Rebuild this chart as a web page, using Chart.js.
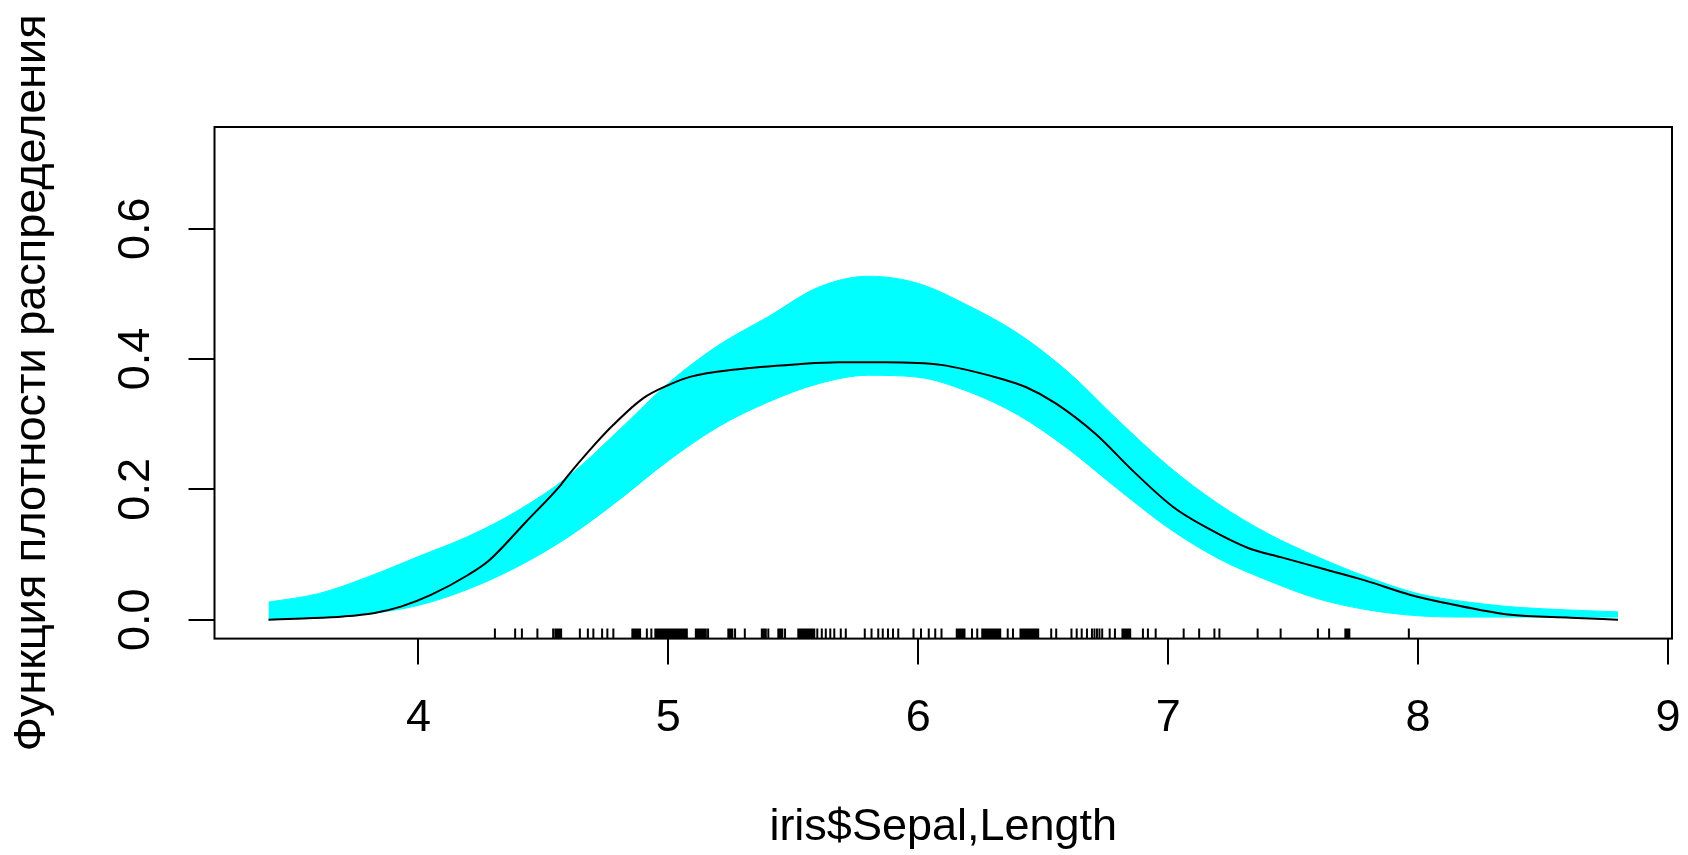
<!DOCTYPE html>
<html>
<head>
<meta charset="utf-8">
<script src="https://cdn.jsdelivr.net/npm/chart.js@4.4.1/dist/chart.umd.min.js"></script>
<style>
  html, body { margin: 0; padding: 0; background: #fff; }
</style>
</head>
<body>
<canvas id="densityChart" width="1688" height="855"></canvas>
<script>
// axis ticks
const xTicks = [4, 5, 6, 7, 8, 9];
const yTicks = [0.0, 0.2, 0.4, 0.6];
const yTickLabels = ['0.0', '0.2', '0.4', '0.6'];

// density estimate (black line)
const estX = [3.40, 3.54, 3.70, 3.82, 3.93, 4.05, 4.20, 4.28, 4.43, 4.57, 4.60, 4.68, 4.78, 4.90, 5.00, 5.09, 5.27, 5.52, 5.68, 5.87, 6.09, 6.32, 6.43, 6.55, 6.71, 6.86, 7.02, 7.16, 7.32, 7.45, 7.63, 7.79, 7.97, 8.13, 8.36, 8.61, 8.80];
const estY = [0.000, 0.002, 0.005, 0.010, 0.020, 0.038, 0.069, 0.090, 0.150, 0.207, 0.222, 0.258, 0.299, 0.340, 0.360, 0.373, 0.384, 0.392, 0.395, 0.395, 0.391, 0.371, 0.357, 0.332, 0.285, 0.228, 0.173, 0.140, 0.110, 0.096, 0.077, 0.060, 0.038, 0.024, 0.008, 0.003, 0.000];

// reference band for the normal model (cyan)
const bandX = [3.4, 3.6, 3.8, 4.0, 4.2, 4.4, 4.6, 4.8, 5.0, 5.2, 5.4, 5.6, 5.8, 6.0, 6.2, 6.4, 6.6, 6.8, 7.0, 7.2, 7.4, 7.6, 7.8, 8.0, 8.2, 8.4, 8.6, 8.8];
const bandUpper = [0.027, 0.040, 0.066, 0.097, 0.128, 0.168, 0.220, 0.290, 0.363, 0.421, 0.465, 0.510, 0.527, 0.516, 0.482, 0.439, 0.380, 0.306, 0.236, 0.178, 0.132, 0.096, 0.065, 0.040, 0.027, 0.019, 0.015, 0.012];
const bandLower = [0.002, 0.003, 0.009, 0.022, 0.047, 0.082, 0.127, 0.183, 0.244, 0.296, 0.334, 0.362, 0.375, 0.372, 0.350, 0.314, 0.262, 0.200, 0.141, 0.094, 0.060, 0.032, 0.015, 0.006, 0.004, 0.004, 0.004, 0.004];

// rug of observations (jittered sepal lengths)
const rugX = [4.306, 4.387, 4.414, 4.476, 4.539, 4.548, 4.556, 4.564, 4.571, 4.646, 4.678, 4.700, 4.735, 4.756, 4.780,
  4.856, 4.864, 4.872, 4.880, 4.887, 4.914, 4.932, 4.948, 4.956, 4.964, 4.972, 4.980, 4.988, 4.996, 5.004, 5.012,
  5.020, 5.028, 5.036, 5.044, 5.052, 5.060, 5.068, 5.074, 5.110, 5.118, 5.126, 5.134, 5.142, 5.150, 5.159,
  5.240, 5.248, 5.256, 5.267, 5.306, 5.374, 5.382, 5.390, 5.400, 5.440, 5.448, 5.456, 5.467,
  5.520, 5.528, 5.536, 5.544, 5.552, 5.560, 5.568, 5.576, 5.584, 5.596, 5.614, 5.630, 5.648, 5.664, 5.690, 5.710,
  5.786, 5.813, 5.840, 5.858, 5.879, 5.899, 5.920, 5.981, 6.011, 6.042, 6.068, 6.093,
  6.154, 6.162, 6.170, 6.178, 6.185, 6.215, 6.236, 6.256, 6.264, 6.272, 6.280, 6.288, 6.296, 6.304, 6.312, 6.320, 6.328,
  6.358, 6.379, 6.409, 6.417, 6.425, 6.433, 6.441, 6.449, 6.457, 6.465, 6.473, 6.480, 6.532, 6.552,
  6.613, 6.634, 6.654, 6.675, 6.695, 6.705, 6.715, 6.725, 6.736, 6.766, 6.787, 6.817, 6.825, 6.833, 6.841, 6.848,
  6.899, 6.919, 6.950, 7.062, 7.124, 7.185, 7.205, 7.358, 7.450, 7.599, 7.644, 7.709, 7.717, 7.725, 7.963];

const FONT = { family: '"Liberation Sans", Arial, sans-serif', size: 45 };

// box, rug and rotated y tick labels, R style
const rPlotExtras = {
  id: 'rPlotExtras',
  afterDatasetsDraw(chart) {
    const { ctx, chartArea, scales } = chart;
    ctx.save();
    ctx.strokeStyle = '#000';
    ctx.lineWidth = 2;
    ctx.beginPath();
    rugX.forEach(v => {
      const px = scales.x.getPixelForValue(v);
      ctx.moveTo(px, chartArea.bottom);
      ctx.lineTo(px, chartArea.bottom - 10);
    });
    ctx.stroke();
    ctx.strokeRect(chartArea.left, chartArea.top, chartArea.right - chartArea.left, chartArea.bottom - chartArea.top);

    ctx.fillStyle = '#000';
    ctx.font = FONT.size + 'px ' + FONT.family;
    ctx.textAlign = 'center';
    ctx.textBaseline = 'middle';
    yTicks.forEach((v, i) => {
      ctx.save();
      ctx.translate(137, scales.y.getPixelForValue(v));
      ctx.rotate(-Math.PI / 2);
      ctx.fillText(yTickLabels[i], 0, 0);
      ctx.restore();
    });
    ctx.restore();
  }
};

const ctx = document.getElementById('densityChart').getContext('2d');
new Chart(ctx, {
  type: 'line',
  data: {
    datasets: [
      {
        label: 'density',
        data: estX.map((x, i) => ({ x: x, y: estY[i] })),
        borderColor: '#000',
        borderWidth: 2,
        cubicInterpolationMode: 'monotone',
        fill: false
      },
      {
        label: 'upper',
        data: bandX.map((x, i) => ({ x: x, y: bandUpper[i] })),
        borderColor: '#00ffff',
        borderWidth: 1,
        backgroundColor: '#00ffff',
        cubicInterpolationMode: 'monotone',
        fill: '+1'
      },
      {
        label: 'lower',
        data: bandX.map((x, i) => ({ x: x, y: bandLower[i] })),
        borderColor: '#00ffff',
        borderWidth: 1,
        cubicInterpolationMode: 'monotone',
        fill: false
      }
    ]
  },
  options: {
    responsive: false,
    animation: false,
    devicePixelRatio: 1,
    layout: { padding: { top: 127, right: 16, left: 0, bottom: 0 } },
    elements: { point: { radius: 0 } },
    plugins: { legend: { display: false }, tooltip: { enabled: false } },
    scales: {
      x: {
        type: 'linear',
        min: 3.184,
        max: 9.016,
        afterBuildTicks: s => { s.ticks = xTicks.map(v => ({ value: v })); },
        afterFit: s => { s.height = 216.4; s.paddingLeft = 0; s.paddingRight = 0; },
        ticks: { font: FONT, color: '#000', padding: 27, maxRotation: 0 },
        grid: { display: true, drawOnChartArea: false, drawTicks: true, tickLength: 26, color: '#000', lineWidth: 2 },
        border: { display: false },
        title: { display: true, text: 'iris$Sepal,Length', font: FONT, color: '#000', padding: { top: 0, bottom: 0 } }
      },
      y: {
        type: 'linear',
        min: -0.029,
        max: 0.756,
        afterBuildTicks: s => { s.ticks = yTicks.map(v => ({ value: v })); },
        afterFit: s => { s.width = 214.5; s.paddingTop = 0; s.paddingBottom = 0; },
        ticks: { display: false },
        grid: { display: true, drawOnChartArea: false, drawTicks: true, tickLength: 26, color: '#000', lineWidth: 2 },
        border: { display: false },
        title: { display: true, text: 'Функция плотности распределения', font: FONT, color: '#000', padding: { top: 6, bottom: 0 } }
      }
    }
  },
  plugins: [rPlotExtras]
});
</script>
</body>
</html>
